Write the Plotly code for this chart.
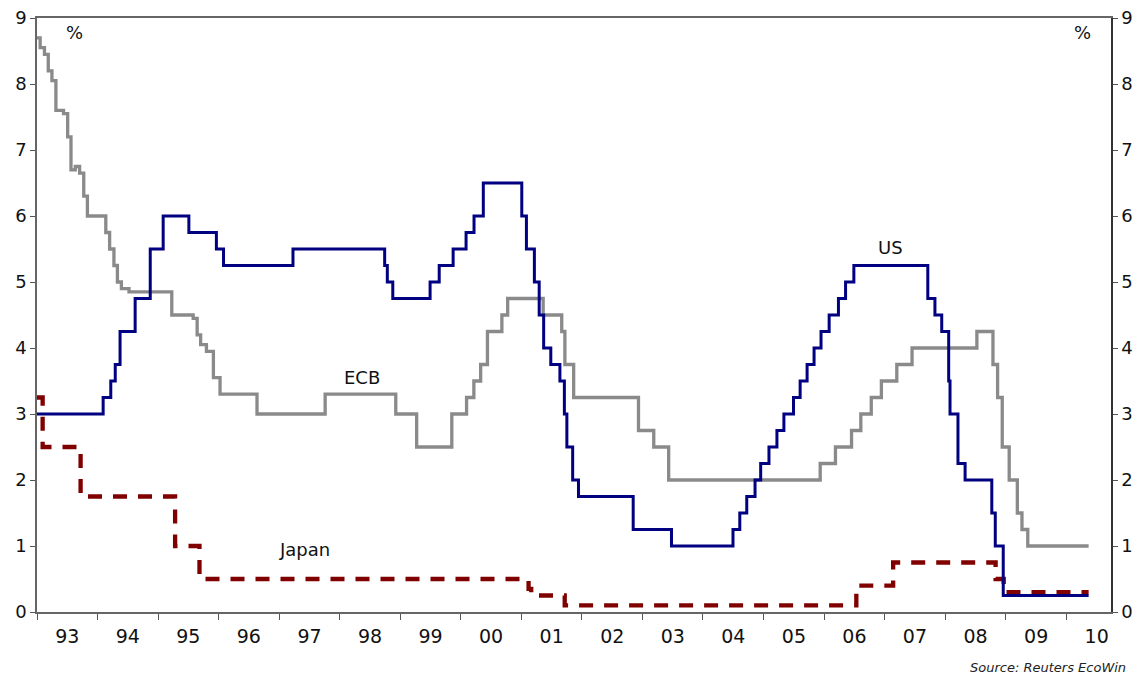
import plotly.graph_objects as go

# policy rates, step changes (date the new rate starts, rate in %)
us_dates = ["1993-01-01", "1994-02-04", "1994-03-22", "1994-04-18", "1994-05-17", "1994-08-16",
            "1994-11-15", "1995-02-01", "1995-07-06", "1995-12-19", "1996-01-31", "1997-03-25",
            "1998-09-29", "1998-10-15", "1998-11-17", "1999-06-30", "1999-08-24", "1999-11-16",
            "2000-02-02", "2000-03-21", "2000-05-16", "2001-01-03", "2001-01-31", "2001-03-20",
            "2001-04-18", "2001-05-15", "2001-06-27", "2001-08-21", "2001-09-17", "2001-10-02",
            "2001-11-06", "2001-12-11", "2002-11-06", "2003-06-25", "2004-06-30", "2004-08-10",
            "2004-09-21", "2004-11-10", "2004-12-14", "2005-02-02", "2005-03-22", "2005-05-03",
            "2005-06-30", "2005-08-09", "2005-09-20", "2005-11-01", "2005-12-13", "2006-01-31",
            "2006-03-28", "2006-05-10", "2006-06-29", "2007-09-18", "2007-10-31", "2007-12-11",
            "2008-01-22", "2008-01-30", "2008-03-18", "2008-04-30", "2008-10-08", "2008-10-29",
            "2008-12-16", "2010-05-15"]
us_rates = [3.00, 3.25, 3.50, 3.75, 4.25, 4.75,
            5.50, 6.00, 5.75, 5.50, 5.25, 5.50,
            5.25, 5.00, 4.75, 5.00, 5.25, 5.50,
            5.75, 6.00, 6.50, 6.00, 5.50, 5.00,
            4.50, 4.00, 3.75, 3.50, 3.00, 2.50,
            2.00, 1.75, 1.25, 1.00, 1.25, 1.50,
            1.75, 2.00, 2.25, 2.50, 2.75, 3.00,
            3.25, 3.50, 3.75, 4.00, 4.25, 4.50,
            4.75, 5.00, 5.25, 4.75, 4.50, 4.25,
            3.50, 3.00, 2.25, 2.00, 1.50, 1.00,
            0.25, 0.25]

ecb_dates = ["1993-01-01", "1993-01-20", "1993-02-15", "1993-03-10", "1993-04-01", "1993-04-25",
             "1993-06-10", "1993-07-05", "1993-07-25", "1993-08-20", "1993-09-15", "1993-10-10",
             "1993-11-01", "1993-12-05", "1994-02-20", "1994-03-15", "1994-04-10", "1994-05-01",
             "1994-05-25", "1994-07-10", "1995-03-25", "1995-08-01", "1995-08-25", "1995-09-15",
             "1995-10-20", "1995-12-01", "1996-01-10", "1996-08-20", "1997-10-05", "1998-12-05",
             "1999-04-10", "1999-11-08", "2000-02-05", "2000-03-20", "2000-04-30", "2000-06-10",
             "2000-09-05", "2000-10-10", "2001-05-12", "2001-09-01", "2001-09-20", "2001-11-12",
             "2002-12-08", "2003-03-10", "2003-06-08", "2005-12-08", "2006-03-10", "2006-06-15",
             "2006-08-10", "2006-10-12", "2006-12-12", "2007-03-15", "2007-06-15", "2008-07-10",
             "2008-10-15", "2008-11-12", "2008-12-10", "2009-01-21", "2009-03-11", "2009-04-08",
             "2009-05-13", "2010-05-15"]
ecb_rates = [8.70, 8.55, 8.45, 8.20, 8.05, 7.60,
             7.55, 7.20, 6.70, 6.75, 6.65, 6.30,
             6.00, 6.00, 5.75, 5.50, 5.25, 5.00,
             4.90, 4.85, 4.50, 4.45, 4.20, 4.05,
             3.95, 3.55, 3.30, 3.00, 3.30, 3.00,
             2.50, 3.00, 3.25, 3.50, 3.75, 4.25,
             4.50, 4.75, 4.50, 4.25, 3.75, 3.25,
             2.75, 2.50, 2.00, 2.25, 2.50, 2.75,
             3.00, 3.25, 3.50, 3.75, 4.00, 4.25,
             3.75, 3.25, 2.50, 2.00, 1.50, 1.25,
             1.00, 1.00]

japan_dates = ["1993-01-01", "1993-02-04", "1993-09-21", "1995-04-14", "1995-09-08", "2001-02-13",
               "2001-03-01", "2001-09-19", "2006-07-14", "2007-02-21", "2008-10-31", "2008-12-19",
               "2010-05-15"]
japan_rates = [3.25, 2.50, 1.75, 1.00, 0.50, 0.35,
               0.25, 0.10, 0.40, 0.75, 0.50, 0.30,
               0.30]

font = "DejaVu Sans, Verdana, sans-serif"

fig = go.Figure()
fig.add_trace(go.Scatter(x=ecb_dates, y=ecb_rates, mode="lines", name="ECB", line_shape="hv",
                         line=dict(color="#8a8a8a", width=3.3)))
fig.add_trace(go.Scatter(x=japan_dates, y=japan_rates, mode="lines", name="Japan", line_shape="hv",
                         line=dict(color="#800000", width=4.3, dash="14px,11px")))
fig.add_trace(go.Scatter(x=us_dates, y=us_rates, mode="lines", name="US", line_shape="hv",
                         line=dict(color="#000080", width=3)))
# invisible trace to carry the right-hand axis
fig.add_trace(go.Scatter(x=us_dates[:1], y=us_rates[:1], yaxis="y2", mode="lines",
                         line=dict(width=0), showlegend=False, hoverinfo="skip"))

# page body adds an 8px offset, so the figure is sized to fit the window after it
fig.update_layout(
    width=1133, height=677,
    margin=dict(l=29, r=30, t=10, b=73),
    paper_bgcolor="white", plot_bgcolor="white",
    showlegend=False,
    font=dict(family=font, color="#111111"),
    xaxis=dict(type="date", range=["1993-01-01", "2010-09-27"], automargin=False,
               tick0="1993-01-01", dtick="M12", tickformat="%y", ticklabelmode="period",
               ticks="outside", ticklen=6, tickcolor="#555555", ticklabeloverflow="allow",
               showline=True, linecolor="#666666", linewidth=1.5, mirror=True,
               showgrid=False, zeroline=False, tickfont=dict(size=19)),
    yaxis=dict(range=[0, 9], dtick=1, ticks="outside", ticklen=5, tickcolor="#555555",
               showline=True, linecolor="#666666", linewidth=1.5, automargin=False,
               ticklabeloverflow="allow",
               showgrid=False, zeroline=False, tickfont=dict(size=18)),
    yaxis2=dict(range=[0, 9], dtick=1, overlaying="y", side="right", automargin=False,
                ticks="outside", ticklen=5, tickcolor="#555555", ticklabeloverflow="allow",
                showline=True, linecolor="#333333", linewidth=1.5,
                showgrid=False, zeroline=False, tickfont=dict(size=18)),
)

labels = [("ECB", "1998-05-15", 3.55), ("US", "2007-02-05", 5.52), ("Japan", "1997-06-05", 0.94)]
for text, x, y in labels:
    fig.add_annotation(x=x, y=y, text=text, showarrow=False, font=dict(size=18, color="#111111"))

fig.add_annotation(x=0.035, y=0.975, xref="paper", yref="paper", text="%", showarrow=False,
                   xanchor="center", yanchor="middle", font=dict(size=18))
fig.add_annotation(x=0.973, y=0.975, xref="paper", yref="paper", text="%", showarrow=False,
                   xanchor="center", yanchor="middle", font=dict(size=18))
fig.add_annotation(x=1.016, y=-0.11, xref="paper", yref="paper", xanchor="right",
                   text="<i>Source: Reuters EcoWin</i>", showarrow=False,
                   font=dict(size=13, color="#222222"))

fig.write_html("out.html")
